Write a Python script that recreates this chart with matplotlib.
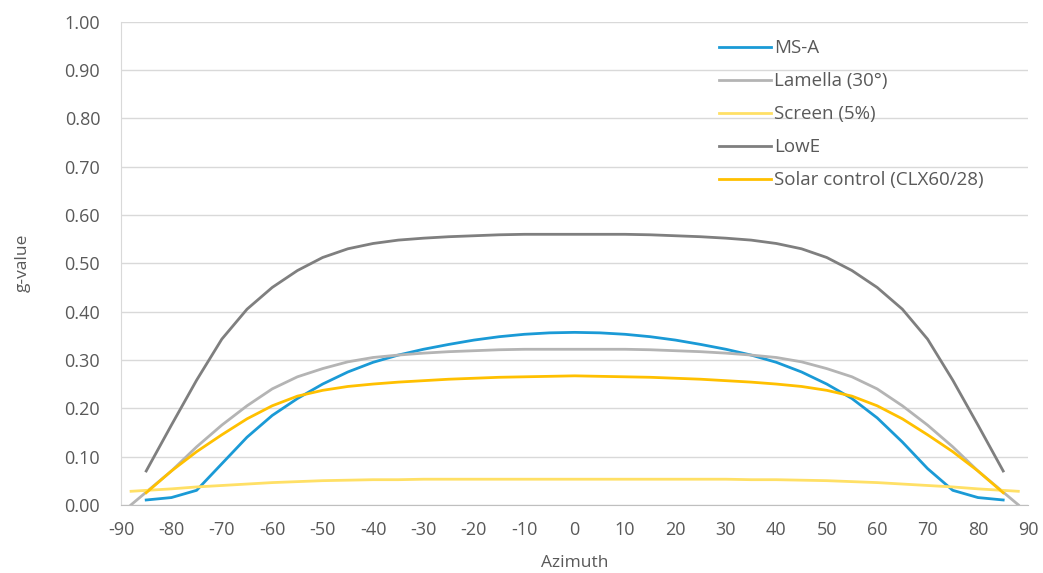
import matplotlib.pyplot as plt

# azimuth angles (degrees)
azimuth = [-85, -80, -75, -70, -65, -60, -55, -50, -45, -40, -35, -30, -25, -20, -15, -10, -5,
           0, 5, 10, 15, 20, 25, 30, 35, 40, 45, 50, 55, 60, 65, 70, 75, 80, 85]
azimuth_wide = [-88] + azimuth[1:-1] + [88]

ms_a = [0.010, 0.015, 0.030, 0.085, 0.140, 0.185, 0.220, 0.250, 0.275, 0.295, 0.310, 0.322, 0.332,
        0.341, 0.348, 0.353, 0.356, 0.357, 0.356, 0.353, 0.348, 0.341, 0.332, 0.322, 0.310,
        0.295, 0.275, 0.250, 0.220, 0.180, 0.130, 0.075, 0.030, 0.015, 0.010]
lamella = [0.000, 0.070, 0.120, 0.165, 0.205, 0.240, 0.265, 0.282, 0.296, 0.305, 0.310, 0.314,
           0.317, 0.319, 0.321, 0.322, 0.322, 0.322, 0.322, 0.322, 0.321, 0.319, 0.317, 0.314,
           0.310, 0.305, 0.296, 0.282, 0.265, 0.240, 0.205, 0.165, 0.120, 0.070, 0.000]
screen = [0.028, 0.033, 0.037, 0.040, 0.043, 0.046, 0.048, 0.050, 0.051, 0.052, 0.052, 0.053,
          0.053, 0.053, 0.053, 0.053, 0.053, 0.053, 0.053, 0.053, 0.053, 0.053, 0.053, 0.053,
          0.052, 0.052, 0.051, 0.050, 0.048, 0.046, 0.043, 0.040, 0.037, 0.033, 0.028]
low_e = [0.070, 0.165, 0.258, 0.343, 0.405, 0.450, 0.485, 0.512, 0.530, 0.541, 0.548, 0.552,
         0.555, 0.557, 0.559, 0.560, 0.560, 0.560, 0.560, 0.560, 0.559, 0.557, 0.555, 0.552,
         0.548, 0.541, 0.530, 0.512, 0.485, 0.450, 0.405, 0.343, 0.258, 0.165, 0.070]
solar = [0.025, 0.070, 0.110, 0.145, 0.178, 0.205, 0.225, 0.237, 0.245, 0.250, 0.254, 0.257,
         0.260, 0.262, 0.264, 0.265, 0.266, 0.267, 0.266, 0.265, 0.264, 0.262, 0.260, 0.257,
         0.254, 0.250, 0.245, 0.237, 0.225, 0.205, 0.178, 0.145, 0.110, 0.070, 0.025]

plt.rcParams['font.family'] = ['Open Sans', 'DejaVu Sans']
plt.rcParams['axes.unicode_minus'] = False

fig = plt.figure(figsize=(10.43, 5.73), dpi=100)
ax = fig.add_axes([0.116, 0.119, 0.870, 0.843])

lw = 2.0
ax.plot(azimuth, ms_a, color='#1a9ad6', lw=lw, label='MS-A')
ax.plot(azimuth_wide, lamella, color='#b4b4b4', lw=lw, label='Lamella (30°)')
ax.plot(azimuth_wide, screen, color='#ffe066', lw=lw, label='Screen (5%)')
ax.plot(azimuth, low_e, color='#7f7f7f', lw=lw, label='LowE')
ax.plot(azimuth, solar, color='#ffc000', lw=lw, label='Solar control (CLX60/28)')

ax.set_xlim(-90, 90)
ax.set_ylim(0, 1.0)
ax.set_xticks(range(-90, 91, 10))
ax.set_yticks([i / 10 for i in range(11)])
ax.set_yticklabels([f'{i / 10:.2f}' for i in range(11)])
ax.tick_params(colors='#595959', labelsize=13, length=0)
ax.tick_params(axis='y', pad=15)
ax.tick_params(axis='x', pad=12)
ax.grid(axis='y', color='#d9d9d9', lw=1)
ax.set_axisbelow(True)
for s in ['top', 'right']:
    ax.spines[s].set_visible(False)
ax.spines['left'].set_color('#d9d9d9')
ax.spines['bottom'].set_color('#bfbfbf')

ax.set_xlabel('Azimuth', color='#595959', fontsize=12.5, labelpad=11)
ax.set_ylabel('g-value', color='#595959', fontsize=12.5, labelpad=24)

leg = ax.legend(loc='upper left', bbox_to_anchor=(0.640, 0.999), frameon=False, fontsize=13.5,
                handlelength=2.8, handletextpad=0.15, labelspacing=0.8)
for t in leg.get_texts():
    t.set_color('#595959')

plt.savefig('out.png', dpi=100)
plt.close()
